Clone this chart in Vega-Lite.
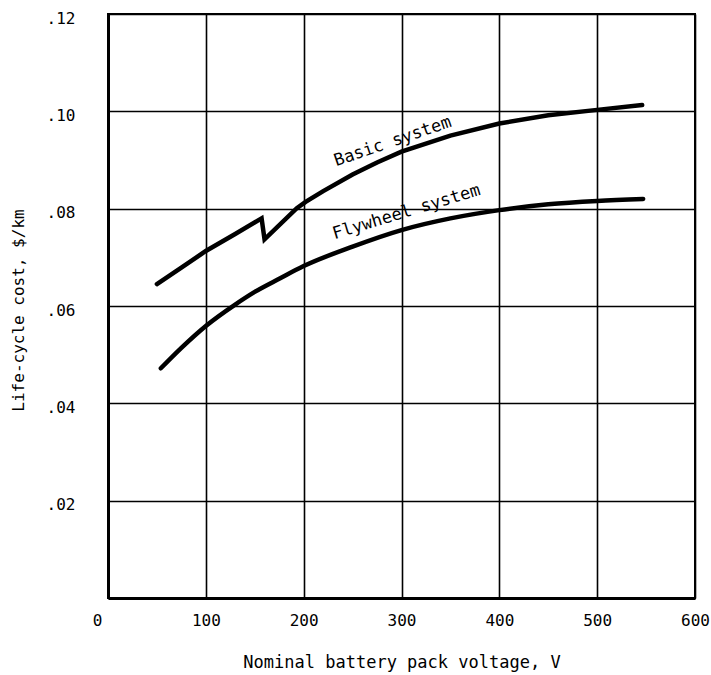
{
  "$schema": "https://vega.github.io/schema/vega-lite/v6.json",
  "width": 587,
  "height": 584,
  "autosize": "none",
  "padding": {"left": 108, "top": 14, "right": 16, "bottom": 77},
  "background": "white",
  "config": {
    "view": {"stroke": "black", "strokeWidth": 2},
    "font": "DejaVu Sans Mono"
  },
  "encoding": {
    "x": {
      "field": "v", "type": "quantitative",
      "scale": {"domain": [0, 600], "nice": false, "zero": false},
      "axis": {
        "values": [0, 100, 200, 300, 400, 500, 600],
        "title": "Nominal battery pack voltage, V",
        "titleFont": "DejaVu Sans Mono",
        "titleFontSize": 17,
        "titleFontWeight": "normal",
        "titleColor": "black",
        "titleY": 69,
        "titleBaseline": "alphabetic",
        "labelFont": "DejaVu Sans Mono",
        "labelFontSize": 16,
        "labelColor": "black",
        "labelPadding": 14,
        "labelOffset": {"expr": "datum.value == 0 ? -11 : 0"},
        "labelFlush": false,
        "ticks": false,
        "domainColor": "black",
        "domainWidth": 3,
        "grid": true,
        "gridColor": "black",
        "gridWidth": 1.6,
        "gridOpacity": 1
      }
    },
    "y": {
      "field": "c", "type": "quantitative",
      "scale": {"domain": [0, 0.12], "nice": false, "zero": false},
      "axis": {
        "values": [0, 0.02, 0.04, 0.06, 0.08, 0.1, 0.12],
        "labelExpr": "datum.value == 0 ? '' : replace(format(datum.value, '.2f'), '0.', '.')",
        "title": "Life-cycle cost, $/km",
        "titleFont": "DejaVu Sans Mono",
        "titleFontSize": 16,
        "titleFontWeight": "normal",
        "titleColor": "black",
        "titleX": -90,
        "titleY": 296,
        "titleAngle": -90,
        "titleAlign": "center",
        "titleBaseline": "middle",
        "labelFont": "DejaVu Sans Mono",
        "labelFontSize": 16,
        "labelColor": "black",
        "labelPadding": 33,
        "labelBaseline": "middle",
        "labelOffset": 4,
        "ticks": false,
        "domainColor": "black",
        "domainWidth": 3,
        "grid": true,
        "gridColor": "black",
        "gridWidth": 1.6,
        "gridOpacity": 1
      }
    }
  },
  "layer": [
    {
      "data": {
        "values": [
          {"series": "Basic system", "v": 50, "c": 0.0645},
          {"series": "Basic system", "v": 75, "c": 0.0679},
          {"series": "Basic system", "v": 100, "c": 0.0713},
          {"series": "Basic system", "v": 130, "c": 0.0748},
          {"series": "Basic system", "v": 157, "c": 0.0780},
          {"series": "Basic system", "v": 160, "c": 0.0737},
          {"series": "Basic system", "v": 193, "c": 0.0801},
          {"series": "Basic system", "v": 202, "c": 0.0814},
          {"series": "Basic system", "v": 220, "c": 0.0836},
          {"series": "Basic system", "v": 250, "c": 0.0870},
          {"series": "Basic system", "v": 275, "c": 0.0895},
          {"series": "Basic system", "v": 300, "c": 0.0917},
          {"series": "Basic system", "v": 350, "c": 0.0950},
          {"series": "Basic system", "v": 400, "c": 0.0975},
          {"series": "Basic system", "v": 450, "c": 0.0992},
          {"series": "Basic system", "v": 500, "c": 0.1003},
          {"series": "Basic system", "v": 546, "c": 0.1013}
        ]
      },
      "mark": {"type": "line", "strokeWidth": 4.5, "strokeCap": "round", "strokeJoin": "miter", "color": "black"}
    },
    {
      "data": {
        "values": [
          {"series": "Flywheel system", "v": 54, "c": 0.0472},
          {"series": "Flywheel system", "v": 75, "c": 0.0514},
          {"series": "Flywheel system", "v": 100, "c": 0.0559},
          {"series": "Flywheel system", "v": 130, "c": 0.0603},
          {"series": "Flywheel system", "v": 150, "c": 0.0629},
          {"series": "Flywheel system", "v": 176, "c": 0.0657},
          {"series": "Flywheel system", "v": 200, "c": 0.0682},
          {"series": "Flywheel system", "v": 250, "c": 0.0722},
          {"series": "Flywheel system", "v": 300, "c": 0.0756},
          {"series": "Flywheel system", "v": 350, "c": 0.0780},
          {"series": "Flywheel system", "v": 400, "c": 0.0797},
          {"series": "Flywheel system", "v": 450, "c": 0.0809},
          {"series": "Flywheel system", "v": 500, "c": 0.0816},
          {"series": "Flywheel system", "v": 547, "c": 0.0820}
        ]
      },
      "mark": {"type": "line", "interpolate": "monotone", "strokeWidth": 4.5, "strokeCap": "round", "color": "black"}
    },
    {
      "data": {
        "values": [
          {"label": "Basic system", "v": 291, "c": 0.0938, "ang": -19},
          {"label": "Flywheel system", "v": 305, "c": 0.0793, "ang": -17}
        ]
      },
      "mark": {"type": "text", "font": "DejaVu Sans Mono", "fontSize": 17, "color": "black", "align": "center", "baseline": "middle"},
      "encoding": {
        "text": {"field": "label"},
        "angle": {"field": "ang", "type": "quantitative", "scale": null}
      }
    }
  ]
}
